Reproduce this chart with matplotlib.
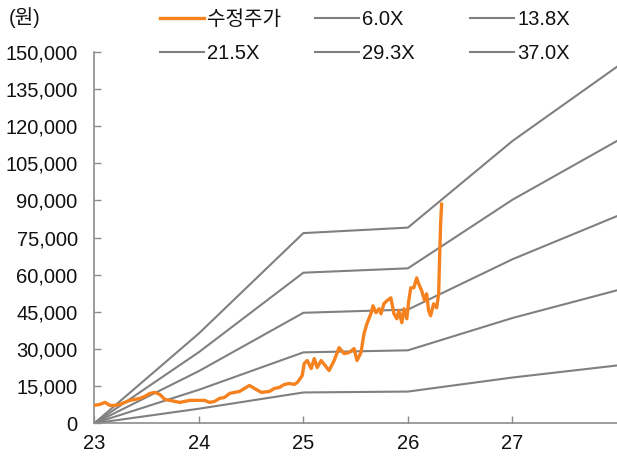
import matplotlib
matplotlib.use("Agg")
import matplotlib.pyplot as plt
from matplotlib.ticker import FuncFormatter

plt.rcParams['font.family'] = ['Liberation Sans', 'Noto Sans CJK KR']

# 밴드 (연도, EPS)
bandYears = [23, 24, 25, 26, 27, 28]
eps = [0, 980, 2075, 2135, 3080, 3890]
multiples = [6.0, 13.8, 21.5, 29.3, 37.0]

# 수정주가 (연도 소수, 원)
priceYears = [23.000, 23.054, 23.102, 23.150, 23.197, 23.245, 23.340, 23.436, 23.483, 23.531,
              23.579, 23.626, 23.674, 23.722, 23.817, 23.912, 24.008, 24.055, 24.103, 24.151,
              24.198, 24.246, 24.294, 24.341, 24.389, 24.437, 24.484, 24.532, 24.599, 24.675,
              24.723, 24.770, 24.818, 24.866, 24.913, 24.942, 24.970, 24.989, 25.008, 25.037,
              25.075, 25.104, 25.132, 25.170, 25.208, 25.246, 25.294, 25.342, 25.389, 25.437,
              25.485, 25.513, 25.551, 25.580, 25.608, 25.646, 25.666, 25.694, 25.723, 25.742,
              25.770, 25.799, 25.837, 25.866, 25.894, 25.913, 25.942, 25.961, 25.989, 26.008,
              26.027, 26.056, 26.084, 26.103, 26.132, 26.160, 26.179, 26.198, 26.217, 26.246,
              26.275, 26.294, 26.303, 26.313, 26.322]
prices = [7240, 7640, 8440, 7240, 7240, 7640, 9250, 10050, 10860, 12060,
          12470, 11660, 9650, 9250, 8440, 9250, 9250, 9250, 8440, 8850,
          10050, 10450, 12060, 12470, 12870, 14070, 15280, 14070, 12470, 12870,
          14070, 14480, 15680, 16080, 15680, 16490, 18090, 19300, 24130, 25330,
          22120, 26140, 22520, 25330, 23320, 21310, 25330, 30560, 28150, 28550,
          30160, 25330, 28550, 36190, 40210, 44230, 47450, 44630, 46240, 44230,
          48250, 49460, 50660, 44230, 42220, 45440, 40610, 46240, 42220, 49460,
          54690, 54690, 58710, 56290, 53480, 49460, 52270, 45440, 43420, 48250,
          46640, 52270, 66750, 80820, 88460]

xTicks = [23, 24, 25, 26, 27]
yTicks = list(range(0, 150001, 15000))

gray = '#808080'
orange = '#F5821F'
fs = 14.5

fig = plt.figure(figsize=(6.17, 4.57), dpi=100)
ax = fig.add_axes([94.3 / 617, 1 - 423.3 / 457, 1 - 94.3 / 617, (423.3 - 51.7) / 457])

priceLine, = ax.plot(priceYears, prices, color=orange, lw=2.4, zorder=3, solid_joinstyle='round')
bandLines = []
for m in multiples:
    ln, = ax.plot(bandYears, [e * m for e in eps], color=gray, lw=1.5, zorder=2)
    bandLines.append(ln)

ax.set_xlim(23, 28)
ax.set_ylim(0, 150000)
ax.set_xticks(xTicks)
ax.set_xticklabels([str(t) for t in xTicks])
ax.set_yticks(yTicks)
ax.yaxis.set_major_formatter(FuncFormatter(lambda v, p: f"{int(v):,}"))

for s in ['top', 'right']:
    ax.spines[s].set_visible(False)
for s in ['left', 'bottom']:
    ax.spines[s].set_color('#8c8c8c')
    ax.spines[s].set_linewidth(1.2)
ax.tick_params(axis='both', direction='in', length=5, width=1, color='#8c8c8c',
               labelsize=fs, labelcolor='#111111')
ax.tick_params(axis='y', pad=12)
ax.tick_params(axis='x', pad=8)

fig.text(9 / 617, 1 - 18 / 457, "(원)", fontsize=fs, va='center', ha='left', color='#111111')

# 범례: 열마다 따로 배치
labels = ["수정주가", "6.0X", "13.8X", "21.5X", "29.3X", "37.0X"]
handles = [priceLine] + bandLines
colX = [160, 315, 470]
for c in range(3):
    hs = [handles[c], handles[c + 3]]
    ls = [labels[c], labels[c + 3]]
    leg = fig.legend(hs, ls, loc='upper left', bbox_to_anchor=(colX[c] / 617, 1 - 10 / 457),
                     frameon=False, fontsize=fs, handlelength=2.2, handletextpad=0.15,
                     labelspacing=0.75, borderaxespad=0, borderpad=0)
    for t in leg.get_texts():
        t.set_color('#111111')

fig.savefig("out.png", dpi=100)
